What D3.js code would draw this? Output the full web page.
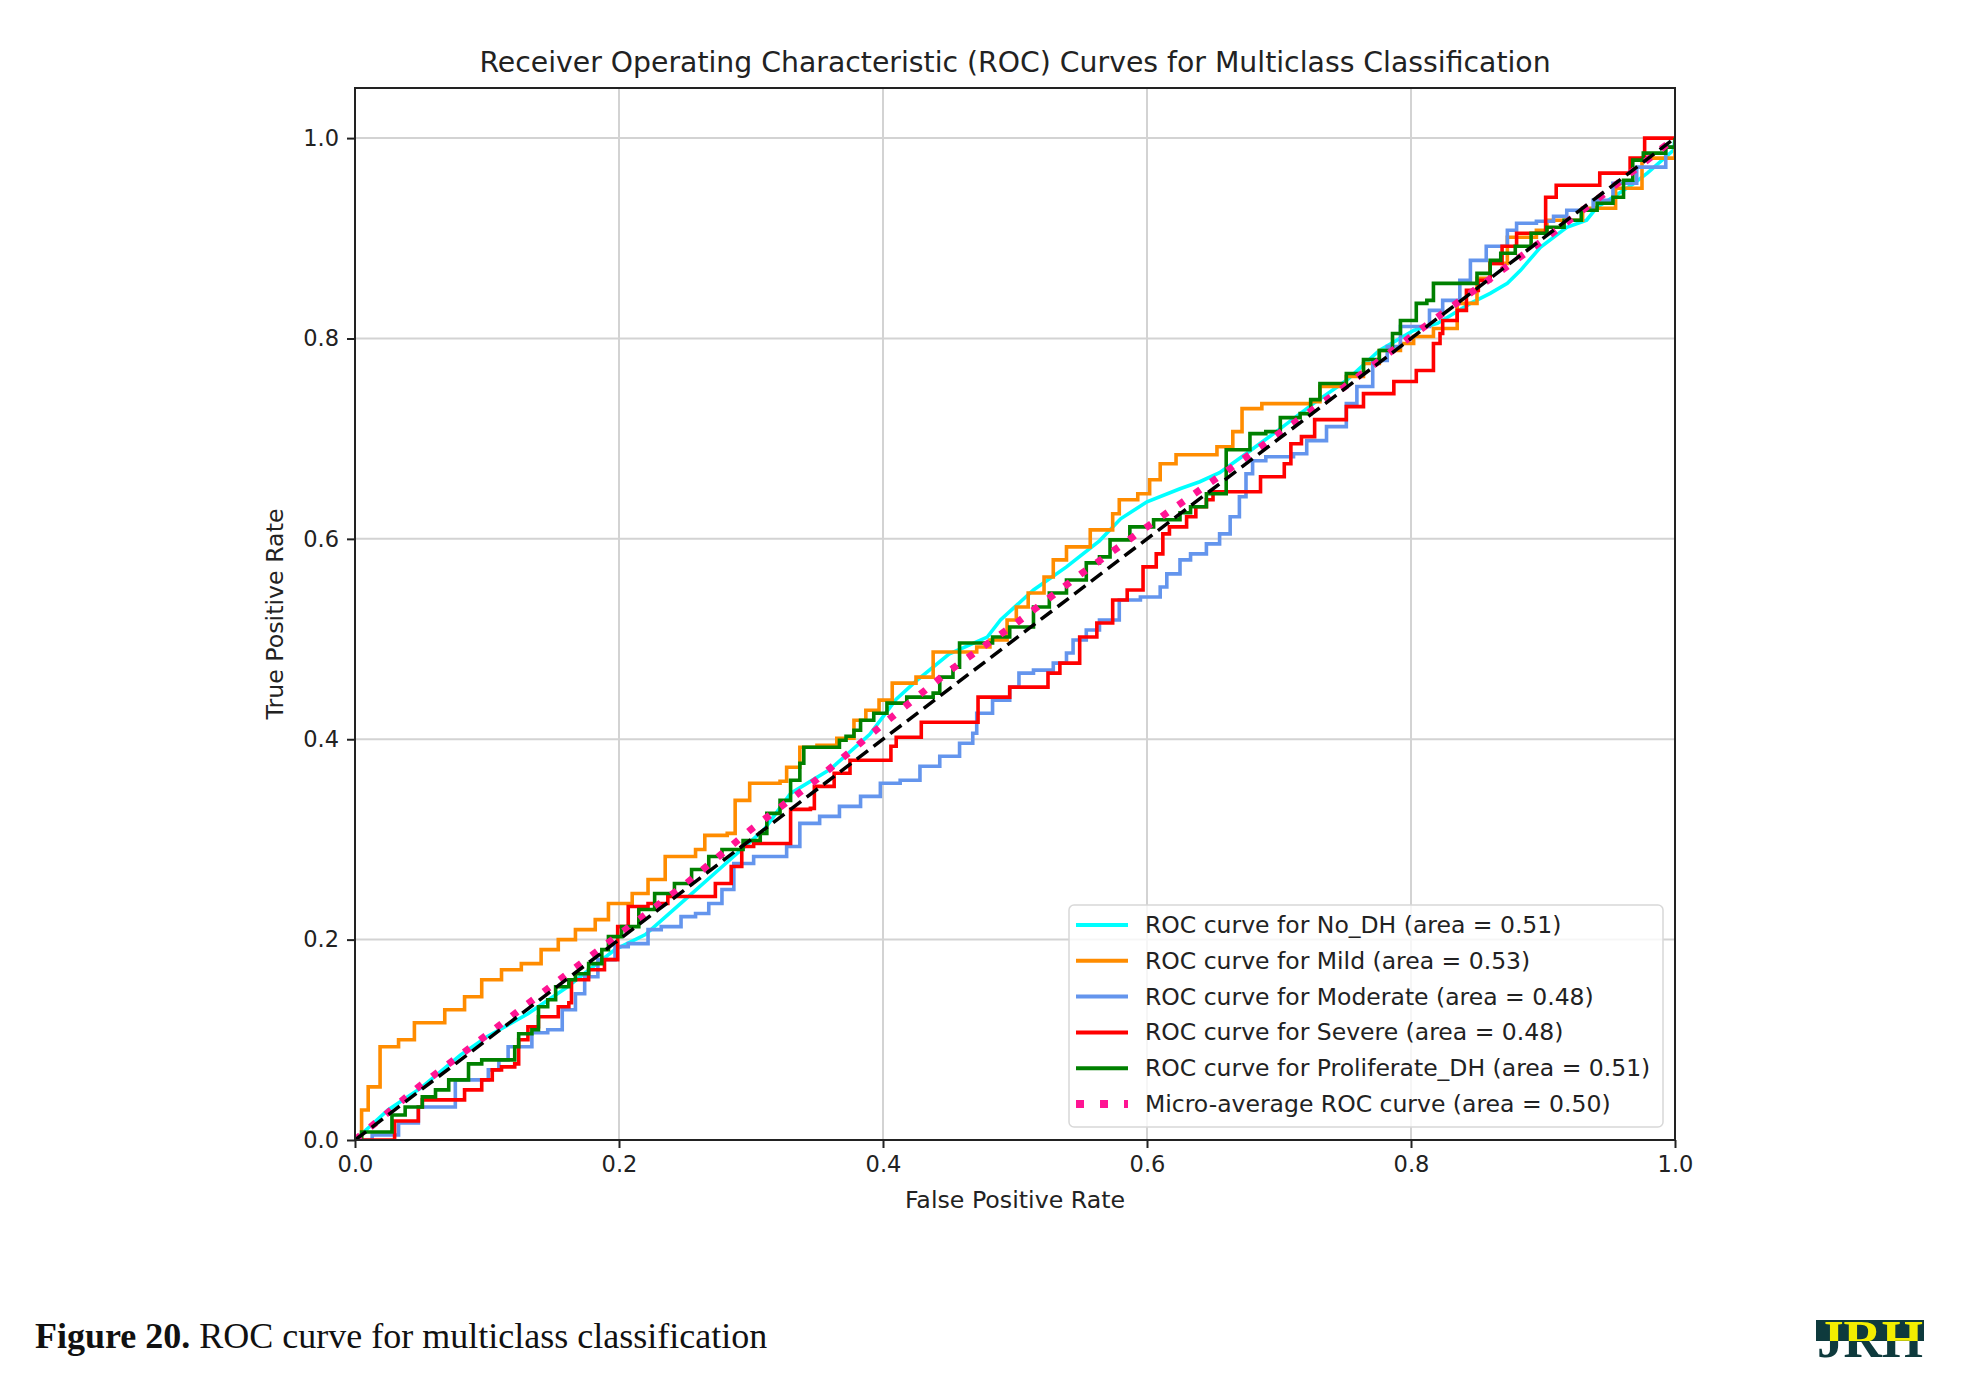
<!DOCTYPE html>
<html>
<head>
<meta charset="utf-8">
<script src="https://cdn.jsdelivr.net/npm/d3@7"></script>
<style>
  html, body { margin: 0; padding: 0; background: #fff; }
  svg { display: block; }
</style>
</head>
<body>
<div id="chart"></div>
<script>
// ---- data (FPR, TPR) ----
const xTicks = [0, 0.2, 0.4, 0.6, 0.8, 1.0];
const yTicks = [0, 0.2, 0.4, 0.6, 0.8, 1.0];

const rocNoDH = [[0,0],[0.01,0.012],[0.025,0.03],[0.05,0.052],[0.08,0.085],[0.1,0.103],[0.131,0.126],[0.16,0.152],[0.197,0.19],[0.22,0.205],[0.25,0.24],[0.28,0.275],[0.31,0.31],[0.33,0.346],[0.36,0.37],[0.39,0.405],[0.41,0.44],[0.425,0.458],[0.45,0.485],[0.479,0.502],[0.489,0.519],[0.514,0.549],[0.539,0.572],[0.564,0.598],[0.58,0.62],[0.6,0.637],[0.625,0.65],[0.64,0.657],[0.655,0.666],[0.675,0.685],[0.7,0.709],[0.726,0.735],[0.751,0.758],[0.776,0.788],[0.802,0.808],[0.82,0.815],[0.845,0.835],[0.86,0.845],[0.873,0.855],[0.883,0.868],[0.898,0.891],[0.918,0.911],[0.933,0.918],[0.941,0.931],[0.953,0.941],[0.968,0.954],[0.979,0.965],[0.999,0.988],[1,1]];

const rocMild = [[0,0],[0.005,0.03],[0.01,0.053],[0.019,0.093],[0.033,0.1],[0.045,0.117],[0.068,0.13],[0.083,0.143],[0.096,0.16],[0.111,0.17],[0.126,0.176],[0.141,0.19],[0.154,0.2],[0.167,0.21],[0.182,0.22],[0.192,0.236],[0.21,0.246],[0.222,0.26],[0.235,0.283],[0.258,0.29],[0.265,0.304],[0.282,0.306],[0.288,0.339],[0.299,0.356],[0.322,0.358],[0.327,0.372],[0.337,0.392],[0.35,0.394],[0.365,0.401],[0.378,0.419],[0.387,0.429],[0.397,0.439],[0.407,0.456],[0.425,0.462],[0.438,0.487],[0.471,0.492],[0.481,0.499],[0.494,0.519],[0.501,0.532],[0.51,0.546],[0.522,0.562],[0.529,0.579],[0.539,0.592],[0.557,0.609],[0.574,0.625],[0.579,0.639],[0.593,0.645],[0.602,0.659],[0.61,0.675],[0.622,0.684],[0.653,0.692],[0.665,0.707],[0.672,0.73],[0.687,0.735],[0.724,0.737],[0.731,0.752],[0.751,0.762],[0.764,0.775],[0.776,0.788],[0.792,0.795],[0.802,0.802],[0.817,0.81],[0.835,0.835],[0.85,0.86],[0.86,0.875],[0.873,0.901],[0.895,0.908],[0.903,0.918],[0.93,0.93],[0.955,0.95],[0.975,0.98],[1,1]];

const rocModerate = [[0,0],[0.013,0.005],[0.033,0.017],[0.048,0.033],[0.076,0.06],[0.101,0.07],[0.109,0.08],[0.116,0.093],[0.134,0.107],[0.146,0.11],[0.157,0.13],[0.167,0.146],[0.174,0.163],[0.184,0.18],[0.197,0.193],[0.207,0.196],[0.222,0.21],[0.232,0.213],[0.247,0.223],[0.258,0.226],[0.268,0.236],[0.278,0.25],[0.287,0.276],[0.302,0.283],[0.327,0.293],[0.337,0.316],[0.352,0.323],[0.367,0.333],[0.383,0.343],[0.398,0.356],[0.413,0.359],[0.428,0.373],[0.443,0.383],[0.458,0.396],[0.468,0.406],[0.471,0.426],[0.483,0.439],[0.496,0.452],[0.503,0.466],[0.514,0.469],[0.529,0.476],[0.539,0.486],[0.544,0.499],[0.554,0.509],[0.564,0.519],[0.579,0.539],[0.595,0.542],[0.61,0.552],[0.615,0.565],[0.625,0.579],[0.633,0.585],[0.645,0.595],[0.655,0.605],[0.663,0.622],[0.67,0.642],[0.675,0.665],[0.68,0.678],[0.69,0.682],[0.711,0.685],[0.721,0.698],[0.736,0.712],[0.751,0.735],[0.759,0.752],[0.771,0.778],[0.782,0.792],[0.792,0.812],[0.814,0.828],[0.824,0.838],[0.837,0.858],[0.845,0.878],[0.857,0.892],[0.873,0.908],[0.88,0.915],[0.895,0.917],[0.908,0.922],[0.918,0.928],[0.938,0.938],[0.953,0.955],[0.971,0.971],[0.993,0.991],[1,1]];

const rocSevere = [[0,0],[0.03,0],[0.03,0.019],[0.048,0.033],[0.051,0.04],[0.083,0.04],[0.083,0.05],[0.096,0.06],[0.104,0.07],[0.111,0.073],[0.121,0.076],[0.124,0.1],[0.131,0.113],[0.139,0.123],[0.154,0.133],[0.162,0.137],[0.164,0.16],[0.177,0.17],[0.189,0.18],[0.199,0.213],[0.207,0.233],[0.222,0.236],[0.237,0.243],[0.273,0.243],[0.273,0.256],[0.285,0.273],[0.293,0.293],[0.302,0.296],[0.33,0.33],[0.345,0.331],[0.348,0.353],[0.363,0.366],[0.375,0.379],[0.403,0.379],[0.406,0.393],[0.41,0.402],[0.428,0.402],[0.429,0.417],[0.471,0.417],[0.472,0.442],[0.494,0.442],[0.496,0.452],[0.523,0.452],[0.525,0.466],[0.534,0.476],[0.547,0.476],[0.549,0.502],[0.562,0.502],[0.562,0.516],[0.574,0.539],[0.585,0.549],[0.597,0.572],[0.607,0.585],[0.612,0.605],[0.617,0.612],[0.63,0.622],[0.637,0.632],[0.645,0.639],[0.65,0.647],[0.683,0.647],[0.686,0.662],[0.701,0.662],[0.704,0.675],[0.709,0.695],[0.717,0.702],[0.727,0.719],[0.749,0.719],[0.751,0.732],[0.764,0.732],[0.764,0.745],[0.787,0.745],[0.787,0.757],[0.802,0.757],[0.804,0.768],[0.817,0.768],[0.817,0.795],[0.822,0.805],[0.824,0.818],[0.835,0.828],[0.842,0.848],[0.851,0.858],[0.86,0.875],[0.869,0.892],[0.88,0.905],[0.895,0.905],[0.902,0.918],[0.902,0.941],[0.91,0.953],[0.943,0.953],[0.943,0.965],[0.963,0.965],[0.966,0.98],[0.977,0.991],[0.977,1],[1,1]];

const rocProliferate = [[0,0],[0.005,0.008],[0.025,0.008],[0.028,0.025],[0.038,0.033],[0.051,0.043],[0.061,0.05],[0.071,0.06],[0.086,0.076],[0.096,0.08],[0.119,0.08],[0.121,0.093],[0.124,0.106],[0.134,0.11],[0.139,0.133],[0.146,0.14],[0.152,0.153],[0.162,0.16],[0.167,0.166],[0.177,0.176],[0.187,0.19],[0.192,0.203],[0.202,0.213],[0.215,0.23],[0.227,0.246],[0.242,0.256],[0.255,0.27],[0.268,0.283],[0.278,0.29],[0.294,0.299],[0.307,0.306],[0.312,0.326],[0.322,0.339],[0.33,0.359],[0.337,0.376],[0.34,0.392],[0.362,0.392],[0.367,0.399],[0.372,0.403],[0.378,0.409],[0.383,0.419],[0.393,0.426],[0.403,0.436],[0.418,0.442],[0.438,0.446],[0.443,0.462],[0.453,0.472],[0.458,0.496],[0.476,0.496],[0.483,0.502],[0.496,0.512],[0.514,0.532],[0.526,0.546],[0.539,0.559],[0.554,0.576],[0.564,0.582],[0.572,0.599],[0.587,0.612],[0.605,0.619],[0.625,0.626],[0.633,0.632],[0.645,0.645],[0.66,0.649],[0.66,0.689],[0.678,0.689],[0.678,0.705],[0.69,0.707],[0.701,0.721],[0.716,0.725],[0.724,0.739],[0.731,0.755],[0.751,0.765],[0.764,0.779],[0.776,0.788],[0.786,0.805],[0.792,0.818],[0.804,0.835],[0.812,0.838],[0.817,0.855],[0.842,0.855],[0.85,0.865],[0.86,0.878],[0.868,0.885],[0.879,0.892],[0.891,0.905],[0.903,0.911],[0.916,0.918],[0.929,0.928],[0.941,0.935],[0.953,0.941],[0.961,0.958],[0.968,0.978],[0.976,0.985],[0.993,0.991],[1,1]];

const rocMicro = [[0,0],[0.05,0.055],[0.1,0.105],[0.15,0.155],[0.2,0.205],[0.25,0.255],[0.3,0.31],[0.35,0.36],[0.4,0.415],[0.45,0.468],[0.5,0.515],[0.55,0.565],[0.6,0.612],[0.65,0.658],[0.7,0.705],[0.75,0.752],[0.8,0.802],[0.85,0.85],[0.9,0.898],[0.95,0.948],[1,1]];

const chanceLine = [[0,0],[1,1]];

const classNames = ["No_DH", "Mild", "Moderate", "Severe", "Proliferate_DH"];
const classAuc = [0.51, 0.53, 0.48, 0.48, 0.51];
const classColors = ["#00ffff", "#ff8c00", "#6495ed", "#ff0000", "#008000"];
const classCurves = [rocNoDH, rocMild, rocModerate, rocSevere, rocProliferate];
const microAuc = 0.50;

// ---- layout ----
const W = 1981, H = 1396;
const plotLeft = 355, plotRight = 1675, plotTop = 88, plotBottom = 1140;

const svg = d3.select("#chart").append("svg").attr("width", W).attr("height", H);
const font = "'DejaVu Sans', sans-serif";

const x = d3.scaleLinear().domain([0, 1]).range([plotLeft, plotRight]);
const y = d3.scaleLinear().domain([0, 1.05]).range([plotBottom, plotTop]);

// grid
const grid = svg.append("g");
grid.selectAll("line.gx").data(xTicks).join("line")
    .attr("x1", d => x(d)).attr("x2", d => x(d))
    .attr("y1", plotTop).attr("y2", plotBottom)
    .attr("stroke", "#d3d3d3").attr("stroke-width", 2);
grid.selectAll("line.gy").data(yTicks).join("line")
    .attr("x1", plotLeft).attr("x2", plotRight)
    .attr("y1", d => y(d)).attr("y2", d => y(d))
    .attr("stroke", "#d3d3d3").attr("stroke-width", 2);

// curves
const defs = svg.append("defs");
defs.append("clipPath").attr("id", "plotClip")
  .append("rect").attr("x", plotLeft).attr("y", plotTop)
  .attr("width", plotRight - plotLeft).attr("height", plotBottom - plotTop);
const plot = svg.append("g").attr("clip-path", "url(#plotClip)");

const stepLine = d3.line().x(d => x(d[0])).y(d => y(d[1])).curve(d3.curveStepAfter);
const straightLine = d3.line().x(d => x(d[0])).y(d => y(d[1]));

classCurves.forEach((curve, i) => {
    plot.append("path")
        .attr("d", i === 0 ? straightLine(curve) : stepLine(curve))
        .attr("fill", "none")
        .attr("stroke", classColors[i])
        .attr("stroke-width", 3.6)
        .attr("stroke-linejoin", "miter");
});

plot.append("path")
    .attr("d", straightLine(rocMicro))
    .attr("fill", "none").attr("stroke", "#ff1493")
    .attr("stroke-width", 7).attr("stroke-dasharray", "7,13");

plot.append("path")
    .attr("d", straightLine(chanceLine))
    .attr("fill", "none").attr("stroke", "#000")
    .attr("stroke-width", 3.5).attr("stroke-dasharray", "14,7");

// axes
const xAxis = svg.append("g").attr("transform", `translate(0,${plotBottom})`)
    .call(d3.axisBottom(x).tickValues(xTicks).tickFormat(d3.format(".1f")).tickSize(8).tickPadding(8));
const yAxis = svg.append("g").attr("transform", `translate(${plotLeft},0)`)
    .call(d3.axisLeft(y).tickValues(yTicks).tickFormat(d3.format(".1f")).tickSize(8).tickPadding(8));
[xAxis, yAxis].forEach(a => {
    a.select(".domain").remove();
    a.selectAll(".tick line").attr("stroke", "#222").attr("stroke-width", 2);
    a.selectAll(".tick text").attr("font-family", font).attr("font-size", 22.5).attr("fill", "#222");
});

// frame
svg.append("rect").attr("x", plotLeft).attr("y", plotTop)
    .attr("width", plotRight - plotLeft).attr("height", plotBottom - plotTop)
    .attr("fill", "none").attr("stroke", "#222").attr("stroke-width", 2);

// titles
svg.append("text").attr("x", (plotLeft + plotRight) / 2).attr("y", 72)
    .attr("text-anchor", "middle").attr("font-family", font).attr("font-size", 28.3).attr("fill", "#222")
    .text("Receiver Operating Characteristic (ROC) Curves for Multiclass Classification");
svg.append("text").attr("x", (plotLeft + plotRight) / 2).attr("y", 1208)
    .attr("text-anchor", "middle").attr("font-family", font).attr("font-size", 23.7).attr("fill", "#222")
    .text("False Positive Rate");
svg.append("text").attr("transform", `translate(283,${(plotTop + plotBottom) / 2}) rotate(-90)`)
    .attr("text-anchor", "middle").attr("font-family", font).attr("font-size", 23.7).attr("fill", "#222")
    .text("True Positive Rate");

// legend
const legend = svg.append("g");
legend.append("rect").attr("x", 1069).attr("y", 905).attr("width", 594).attr("height", 222)
    .attr("rx", 5).attr("fill", "#fff").attr("fill-opacity", 0.8)
    .attr("stroke", "#d8d8d8").attr("stroke-width", 1.5);
const legendRows = classNames.map((n, i) => ({
    label: `ROC curve for ${n} (area = ${classAuc[i].toFixed(2)})`, color: classColors[i], micro: false
})).concat([{ label: `Micro-average ROC curve (area = ${microAuc.toFixed(2)})`, color: "#ff1493", micro: true }]);
legendRows.forEach((r, i) => {
    const cy = 925 + i * 35.8;
    legend.append("line").attr("x1", 1076).attr("x2", 1128).attr("y1", cy).attr("y2", cy)
        .attr("stroke", r.color)
        .attr("stroke-width", r.micro ? 8 : 4)
        .attr("stroke-dasharray", r.micro ? "8,16" : null);
    legend.append("text").attr("x", 1145).attr("y", cy + 8)
        .attr("font-family", font).attr("font-size", 23.5).attr("fill", "#222")
        .text(r.label);
});

// caption
const cap = svg.append("text").attr("x", 35).attr("y", 1348)
    .attr("font-family", "'Liberation Serif', serif").attr("font-size", 36).attr("fill", "#111");
cap.append("tspan").attr("font-weight", "bold").text("Figure 20.");
cap.append("tspan").text(" ROC curve for multiclass classification");

// logo
const logo = svg.append("g");
logo.append("rect").attr("x", 1816).attr("y", 1320).attr("width", 108).attr("height", 21).attr("fill", "#0e3a3d");
defs.append("clipPath").attr("id", "logoTop").append("rect").attr("x", 1810).attr("y", 1310).attr("width", 120).attr("height", 31);
defs.append("clipPath").attr("id", "logoBot").append("rect").attr("x", 1810).attr("y", 1341).attr("width", 120).attr("height", 30);
["logoTop", "logoBot"].forEach((id, i) => {
    logo.append("text").attr("x", 1817).attr("y", 1357)
        .attr("clip-path", `url(#${id})`)
        .attr("font-family", "'Liberation Serif', serif").attr("font-weight", "bold").attr("font-size", 52)
        .attr("textLength", 106).attr("lengthAdjust", "spacingAndGlyphs")
        .attr("fill", i === 0 ? "#f2ee00" : "#0e3a3d")
        .text("JRH");
});
</script>
</body>
</html>
